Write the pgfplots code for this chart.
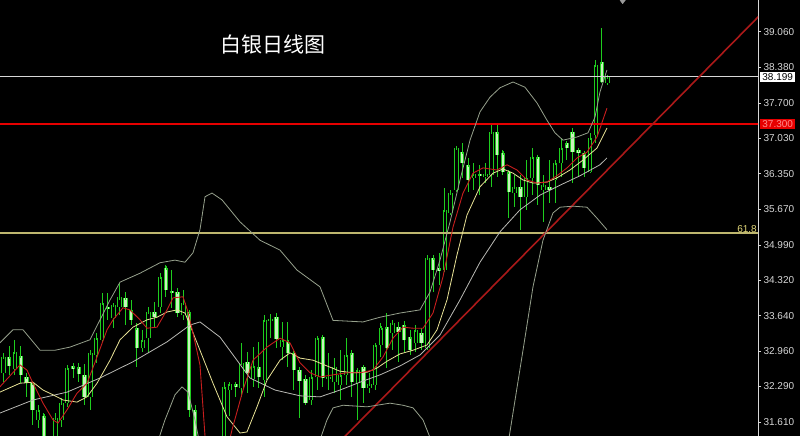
\documentclass[border=0pt]{standalone}
\usepackage{fontspec}
\setmainfont{Liberation Sans}
\newfontfamily\cjk{Noto Sans CJK SC}
\usepackage{pgfplots}
\usepackage{pgfplotstable}
\pgfplotsset{compat=1.18}

\definecolor{cgreen}{RGB}{30,205,30}
\definecolor{cpale}{RGB}{200,242,188}
\definecolor{mared}{RGB}{200,30,30}
\definecolor{mayel}{RGB}{232,226,150}
\definecolor{mamid}{RGB}{185,185,180}
\definecolor{bband}{RGB}{150,160,140}
\definecolor{trend}{RGB}{170,25,25}
\definecolor{fibo}{RGB}{190,182,110}
\definecolor{fibotext}{RGB}{225,215,120}
\definecolor{axisgray}{RGB}{215,215,215}
\definecolor{boxred}{RGB}{230,0,0}

% daily candles: index, open, high, low, close
\pgfplotstableread{
i o h l c
0 32.54 32.93 32.37 32.86
2 32.62 33.18 32.51 32.95
6 31.65 31.93 31.50 31.84
8 31.10 31.30 30.90 31.25
9 31.20 31.78 31.10 31.69
10 31.65 32.07 31.51 31.97
11 31.97 32.70 31.90 32.64
15 32.09 32.98 31.84 32.93
16 32.89 33.31 32.74 33.21
17 33.18 34.07 33.14 33.88
19 33.59 33.88 33.40 33.84
20 33.81 34.26 33.65 33.99
24 33.02 33.37 32.95 33.17
25 33.21 33.80 32.93 33.71
27 33.81 34.45 33.69 34.38
31 33.65 34.13 33.56 33.88
34 30.90 31.30 30.80 31.20
36 30.95 31.30 30.85 31.25
37 31.00 31.33 30.90 31.30
38 31.20 32.37 31.10 32.28
39 32.22 32.37 31.72 32.33
41 32.26 33.12 32.09 32.74
43 32.43 33.04 32.28 32.68
45 32.41 33.65 32.09 33.56
46 33.54 33.67 33.21 33.58
48 33.04 33.52 32.79 33.17
53 32.03 32.60 31.93 32.47
54 32.47 33.23 32.22 33.21
56 32.43 32.93 32.22 32.47
57 32.37 32.83 32.16 32.66
58 32.32 32.98 32.03 32.51
59 32.51 33.21 32.32 32.89
61 32.35 32.64 31.65 32.60
63 32.26 32.55 32.16 32.33
64 32.32 33.12 32.22 33.08
65 33.08 33.50 32.85 33.40
67 33.31 33.56 32.98 33.50
71 33.12 33.46 32.95 33.37
73 33.02 34.80 32.98 34.74
76 34.51 36.08 34.47 35.66
77 35.60 36.04 35.56 35.98
78 36.04 36.86 36.00 36.84
81 36.27 36.55 36.04 36.34
83 36.29 36.55 36.17 36.34
84 36.33 37.28 36.10 37.14
88 35.98 36.33 35.71 36.09
90 35.90 36.61 35.66 36.27
91 36.27 36.84 35.94 36.67
93 36.04 36.33 35.43 36.13
95 36.23 36.61 35.79 36.55
96 36.55 37.03 36.29 36.84
101 36.38 37.12 36.36 37.03
102 37.09 38.52 36.94 38.42
104 38.08 38.23 38.04 38.20
}\hollow

\pgfplotstableread{
i o h l c
1 32.85 33.06 32.51 32.68
3 32.87 33.06 32.35 32.51
4 32.47 32.55 32.09 32.35
5 32.35 32.37 31.55 31.84
7 31.72 31.78 31.10 31.27
12 32.68 32.74 32.45 32.62
13 32.66 32.74 32.37 32.53
14 32.51 32.72 31.93 32.09
18 33.80 34.07 33.56 33.77
21 33.98 34.09 33.46 33.81
22 33.75 33.94 33.46 33.56
23 33.40 33.50 32.66 33.02
26 33.71 33.90 33.40 33.61
28 34.55 34.61 34.00 34.13
29 34.11 34.51 33.79 34.07
30 34.09 34.17 33.61 33.69
32 33.71 33.75 31.71 31.84
33 31.84 31.93 31.08 31.17
35 31.20 31.28 30.90 30.95
40 32.33 32.37 32.09 32.28
42 32.76 32.95 32.16 32.55
44 32.66 33.14 32.26 32.47
47 33.61 33.69 33.02 33.19
49 33.14 33.52 32.66 32.93
50 32.93 32.95 32.22 32.60
51 32.60 32.66 31.69 32.39
52 32.43 32.51 31.93 31.97
55 33.23 33.27 32.28 32.45
60 32.93 32.98 32.09 32.37
62 32.66 32.70 31.97 32.26
66 33.42 33.69 32.64 33.02
68 33.42 33.52 32.76 33.33
69 33.46 33.54 32.95 33.17
70 33.23 33.37 32.89 32.98
72 33.31 33.40 32.98 33.12
74 34.74 34.80 34.09 34.51
75 34.55 34.84 34.23 34.49
79 36.76 36.94 36.27 36.55
80 36.51 36.65 36.00 36.23
82 36.34 36.51 35.94 36.31
85 37.14 37.28 36.29 36.71
86 36.74 36.80 36.33 36.38
87 36.38 36.42 35.50 36.00
89 36.09 36.33 35.27 35.90
92 36.67 36.71 35.75 36.13
94 36.09 36.61 35.79 36.04
97 36.93 36.95 36.61 36.84
98 37.14 37.22 36.17 36.76
99 36.80 36.84 36.29 36.74
100 36.74 36.76 36.29 36.46
103 38.48 39.13 38.08 38.10
}\filled

\pgfplotsset{
  wick/.style={draw=none, mark=none, forget plot,
    error bars/.cd, y dir=both, y explicit, error mark=none,
    error bar style={draw=cgreen, line width=1pt}},
  body/.style={draw=none, mark=none, forget plot,
    error bars/.cd, y dir=plus, y explicit, error mark=none,
    error bar style={draw=cgreen, line width=4.4pt}},
  inner/.style={draw=none, mark=none, forget plot,
    error bars/.cd, y dir=plus, y explicit, error mark=-,
    error mark options={draw=cgreen, line width=0.9pt, mark size=2.2pt},
    error bar style={draw=#1, line width=2.4pt}},
}

\begin{document}
\begin{tikzpicture}
\useasboundingbox (0,0) rectangle (800pt,436pt);
\fill[black] (0,0) rectangle (800pt,436pt);
\begin{axis}[
  at={(0,0)}, anchor=south west,
  width=758pt, height=436pt, scale only axis,
  xmin=-0.57, xmax=129.9, ymin=31.343, ymax=39.665,
  clip mode=individual,
  axis x line=none, axis y line*=right,
  y axis line style={axisgray, line width=1pt, -},
  xtick=\empty,
  ytick={31.61,32.29,32.96,33.64,34.32,34.99,35.67,36.35,37.03,37.70,38.38,39.06},
  scaled y ticks=false,
  tick align=outside, major tick length=3pt,
  ytick style={axisgray, line width=0.8pt},
  yticklabel style={text=axisgray, anchor=west, xshift=-1pt,
    font=\fontsize{10}{12}\selectfont,
    /pgf/number format/.cd, fixed, fixed zerofill, precision=3, assume math mode=true},
]
% wicks
\addplot[wick] table[x=i, y=c, y error plus expr=\thisrow{h}-\thisrow{c}, y error minus expr=\thisrow{c}-\thisrow{l}] {\hollow};
\addplot[wick] table[x=i, y=c, y error plus expr=\thisrow{h}-\thisrow{c}, y error minus expr=\thisrow{c}-\thisrow{l}] {\filled};
% bodies
\addplot[body] table[x=i, y=o, y error plus expr=\thisrow{c}-\thisrow{o}] {\hollow};
\addplot[body] table[x=i, y=c, y error plus expr=\thisrow{o}-\thisrow{c}] {\filled};
\addplot[inner=black] table[x=i, y=o, y error plus expr=\thisrow{c}-\thisrow{o}] {\hollow};
\addplot[inner=cpale] table[x=i, y=c, y error plus expr=\thisrow{o}-\thisrow{c}] {\filled};

% horizontal levels and trend line
\addplot[draw=axisgray, line width=0.9pt] coordinates {(-1,38.199) (131,38.199)};
\addplot[draw=boxred, line width=1.5pt] coordinates {(-1,37.30) (131,37.30)};
\addplot[draw=fibo, line width=1.8pt] coordinates {(-1,35.21) (131,35.21)};
\addplot[draw=trend, line width=1.6pt] coordinates {(56,31.02) (130,39.35)};

% bollinger bands
\addplot[draw=bband, line width=0.8pt] coordinates {
(-0.6,33.12) (1.67,33.37) (3.39,33.37) (6.32,32.98) (8.9,32.98) (11.48,33.04)
(14.92,33.18) (18.37,33.94) (20.09,34.28) (23.53,34.45) (26.97,34.65) (29.55,34.70)
(31.27,34.66) (32.65,34.84) (33.85,35.28) (34.72,35.91) (35.92,35.98) (37.64,35.85)
(40.74,35.43) (44.18,35.08) (47.63,34.89) (50.55,34.51) (54.51,34.19) (56.75,33.55)
(61.91,33.52) (64.84,33.61) (68.28,33.69) (71.72,33.75) (73.44,34.09) (75.16,34.70)
(76.89,35.43) (78.61,36.23) (80.33,36.99) (82.05,37.53) (83.77,37.81) (85.49,37.99)
(87.73,38.10) (89.79,38.00) (91.86,37.70) (93.58,37.37) (94.95,37.13) (96.33,36.99)
(98.74,37.05) (100.64,37.13) (101.84,37.43) (102.7,37.91) (103.9,38.33)};
\addplot[draw=bband, line width=0.8pt] coordinates {
(25.0,30.90) (26.1,31.07) (27.83,31.65) (29.55,32.13) (30.76,32.28) (31.79,32.18)
(32.99,31.65) (33.85,31.17) (36,30.5) (44,29.8) (52,30.5) (54.51,31.27) (55.71,31.65)
(56.75,31.88) (58.47,31.93) (62.6,31.90) (66.56,31.97) (68.8,31.93) (70.52,31.88)
(72.24,31.65) (73.96,31.17) (76,30.5) (80,29.7) (84,30.3) (86.6,31.0) (89.45,32.98)
(91.17,34.19) (92.89,35.08) (94.61,35.60) (95.82,35.71) (98.05,35.73) (100.46,35.71)
(102.19,35.50) (103.9,35.28)};
\addplot[draw=mamid, line width=0.8pt] coordinates {
(-0.6,31.78) (5.11,32.03) (10.96,32.18) (16.64,32.45) (22.32,32.76) (28.18,33.14)
(32.13,33.46) (33.85,33.52) (37.3,33.23) (42.46,32.45) (46.77,32.22) (51.07,32.11)
(54.51,32.09) (57.95,32.22) (61.4,32.37) (64.84,32.51) (68.28,32.68) (71.72,32.89)
(75.16,33.27) (78.6,33.94) (82.05,34.66) (85.49,35.24) (88.93,35.66) (92.38,35.94)
(95.82,36.13) (99.26,36.31) (102.7,36.52) (103.9,36.65)};
% moving averages
\addplot[draw=mayel, line width=0.8pt] coordinates {
(-0.6,32.18) (2.87,32.35) (5.11,32.37) (6.83,32.22) (8.55,32.13) (10.28,32.03)
(12.68,31.99) (14.41,32.09) (16.13,32.35) (18.37,32.79) (20.09,33.18) (22.32,33.42)
(24.73,33.56) (26.45,33.61) (28.18,33.71) (29.9,33.75) (31.27,33.69) (32.13,33.46)
(33.85,32.98) (36.09,32.35) (38.5,31.71) (40.74,31.40) (41.94,31.42) (43.67,31.90)
(45.39,32.41) (47.63,32.79) (49.35,32.93) (51.07,32.83) (53.3,32.79) (55.71,32.68)
(57.95,32.58) (60.19,32.55) (62.6,32.56) (64.32,32.64) (66.04,32.77) (68.28,32.91)
(70.52,32.98) (72.93,33.08) (74.65,33.37) (76.37,33.94) (78.09,34.80) (79.81,35.56)
(82.05,36.10) (84.29,36.36) (86.01,36.44) (87.73,36.36) (89.45,36.23) (91.17,36.17)
(93.58,36.19) (95.3,36.27) (97.54,36.42) (99.78,36.61) (102.19,36.84) (103.9,37.22)};
\addplot[draw=mared, line width=0.9pt] coordinates {
(-0.6,32.28) (2.87,32.70) (4.08,32.60) (5.11,32.35) (6.83,31.97) (8.55,31.65)
(9.41,31.59) (10.96,31.84) (12.68,32.16) (14.41,32.35) (16.13,32.85) (17.85,33.37)
(18.88,33.56) (20.6,33.79) (21.8,33.75) (23.53,33.56) (24.73,33.40) (26.45,33.42)
(28.18,33.75) (29.21,33.98) (30.93,34.00) (31.79,33.71) (32.65,33.31) (33.85,32.70)
(34.72,31.34) (35.2,30.89) (36.4,30.69) (38.16,30.89) (39.36,31.46) (41.26,32.22)
(42.98,32.79) (45.39,33.04) (47.63,33.21) (49.35,33.12) (51.07,32.74) (52.79,32.55)
(54.51,32.47) (56.75,32.51) (59.16,32.55) (61.4,32.55) (63.63,32.60) (65.35,32.85)
(67.07,33.21) (68.8,33.42) (70.52,33.40) (72.24,33.40) (73.96,33.69) (75.68,34.38)
(77.4,35.33) (79.12,35.98) (80.84,36.36) (82.57,36.46) (84.98,36.42) (86.7,36.52)
(88.42,36.42) (90.14,36.23) (91.86,36.17) (93.58,36.19) (95.3,36.31) (97.02,36.46)
(98.74,36.65) (100.46,36.76) (102.19,37.05) (103.9,37.60)};

% arrow marker at the top edge
\addplot[only marks, mark=diamond*, mark size=3.5pt, color=gray!80!white] coordinates {(106.6,39.66)};

% price labels
\node[anchor=west, xshift=2pt, fill=white, text=black, inner sep=0pt,
  minimum width=35pt, minimum height=10pt, font=\fontsize{10}{12}\selectfont]
  at (axis cs:129.9,38.199) {38.199};
\node[anchor=west, xshift=2pt, fill=boxred, text=red!45!white, inner sep=0pt,
  minimum width=35pt, minimum height=10pt, font=\fontsize{10}{12}\selectfont]
  at (axis cs:129.9,37.30) {37.300};
\node[anchor=south east, text=fibotext, inner sep=1pt, font=\fontsize{10}{11}\selectfont]
  at (axis cs:129.9,35.21) {61.8};
\node[anchor=west, text=white, inner sep=0pt, font=\cjk\fontsize{21}{22}\selectfont]
  at (rel axis cs:0.29,0.897) {白银日线图};
\end{axis}
\end{tikzpicture}
\end{document}
